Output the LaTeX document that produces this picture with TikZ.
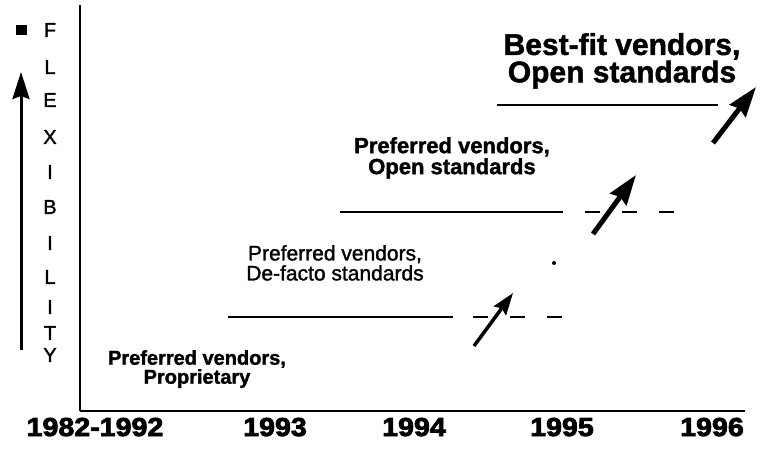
\documentclass[tikz,border=0pt]{standalone}
\usepackage{fontspec}
\setmainfont{Liberation Sans}
\newfontfamily\yearfont{Liberation Sans}[FakeStretch=1.1,FakeBold=3]
\newfontfamily\heavyfont{Liberation Sans}[FakeBold=1.5]
\usetikzlibrary{arrows.meta}
\tikzset{
    %Define standard arrow tip
    >={Stealth[length=30pt,width=20pt,inset=3pt]},
    %Define style for stage texts
    stage/.style={
   	align=center,
   	inner sep=0pt,
   	anchor=north,
   	font=\heavyfont\bfseries\fontsize{22}{21}\selectfont
   },
    letter/.style={
   	inner sep=0pt,
   	font=\heavyfont\fontsize{20}{20}\selectfont
   },
    year/.style={
   	inner sep=0pt,
   	anchor=base,
   	font=\yearfont\bfseries\fontsize{26}{26}\selectfont
   },
    % Define line styles
    level/.style={
           line width=2pt},
    later/.style={
           line width=2pt,
           dash pattern=on 15pt off 22pt},
    pil/.style={
           ->,
           line width=5pt}
}
\begin{document}
\begin{tikzpicture}[x=1pt,y=-1pt,axis/.style={line width=2.5pt}]
		\useasboundingbox (0,0) rectangle (773,452);
		%axes
		\coordinate (o) at (80,411);
		\coordinate (top) at (80,5);
		\coordinate (right) at (745,411);
		\draw[axis] (top) -- (o);
		\draw[line width=1.8pt] (o) -- (right);
		%years
		\node[year](y1) at (95,436){1982-1992};
		\node[year](y2) at (275,436){1993};
		\node[year](y3) at (414,436){1994};
		\node[year](y4) at (562,436){1995};
		\node[year](y5) at (712,436){1996};
		%flexibility
		\node[fill,inner sep=0pt,minimum width=11pt,minimum height=10pt](sq) at (21,30){};
		\node[letter](l1) at (50,30){F};
		\node[letter](l2) at (50,67){L};
		\node[letter](l3) at (50,100){E};
		\node[letter](l4) at (50,137){X};
		\node[letter](l5) at (50,172){I};
		\node[letter](l6) at (50,207){B};
		\node[letter](l7) at (50,243){I};
		\node[letter](l8) at (50,277){L};
		\node[letter](l9) at (50,307){I};
		\node[letter](l10) at (50,333){T};
		\node[letter](l11) at (50,355){Y};
		\coordinate (fa) at (21,350);
		\coordinate (fb) at (21,72);
		\draw[->,line width=3pt,>={Stealth[length=27pt,width=17pt,inset=3pt]}] (fa) -- (fb);
		%stages
		\node[stage,font=\heavyfont\bfseries\fontsize{20}{19}\selectfont](s1) at (197,350){Preferred vendors,\\Proprietary};
		\node[stage,font=\heavyfont\fontsize{21}{20}\selectfont](s2) at (335,245){Preferred vendors,\\De-facto standards};
		\node[stage](s3) at (452,137){Preferred vendors,\\Open standards};
		\node[stage,font=\heavyfont\bfseries\fontsize{30}{26}\selectfont](s4) at (622,33){Best-fit vendors,\\Open standards};
		%levels
		\coordinate (a1) at (228,317);
		\coordinate (a2) at (453,317);
		\coordinate (a3) at (473,317);
		\coordinate (a4) at (570,317);
		\coordinate (b1) at (340,212);
		\coordinate (b2) at (563,212);
		\coordinate (b3) at (585,212);
		\coordinate (b4) at (682,212);
		\coordinate (c1) at (497,105);
		\coordinate (c2) at (718,105);
		\draw[level] (a1) -- (a2);
		\draw[later] (a3) -- (a4);
		\draw[level] (b1) -- (b2);
		\draw[later] (b3) -- (b4);
		\draw[level] (c1) -- (c2);
		\node[circle,fill,inner sep=0pt,minimum size=4pt](dot) at (554,263){};
		%steps
		\coordinate (p1) at (474,346);
		\coordinate (q1) at (513,293);
		\coordinate (p2) at (593,234);
		\coordinate (q2) at (636,175);
		\coordinate (p3) at (713,143);
		\coordinate (q3) at (756,87);
		\draw[pil,line width=3.5pt,>={Stealth[length=22pt,width=15pt,inset=3pt]}] (p1) -- (q1);
		\draw[pil] (p2) -- (q2);
		\draw[pil] (p3) -- (q3);
		\end{tikzpicture}
\end{document}
